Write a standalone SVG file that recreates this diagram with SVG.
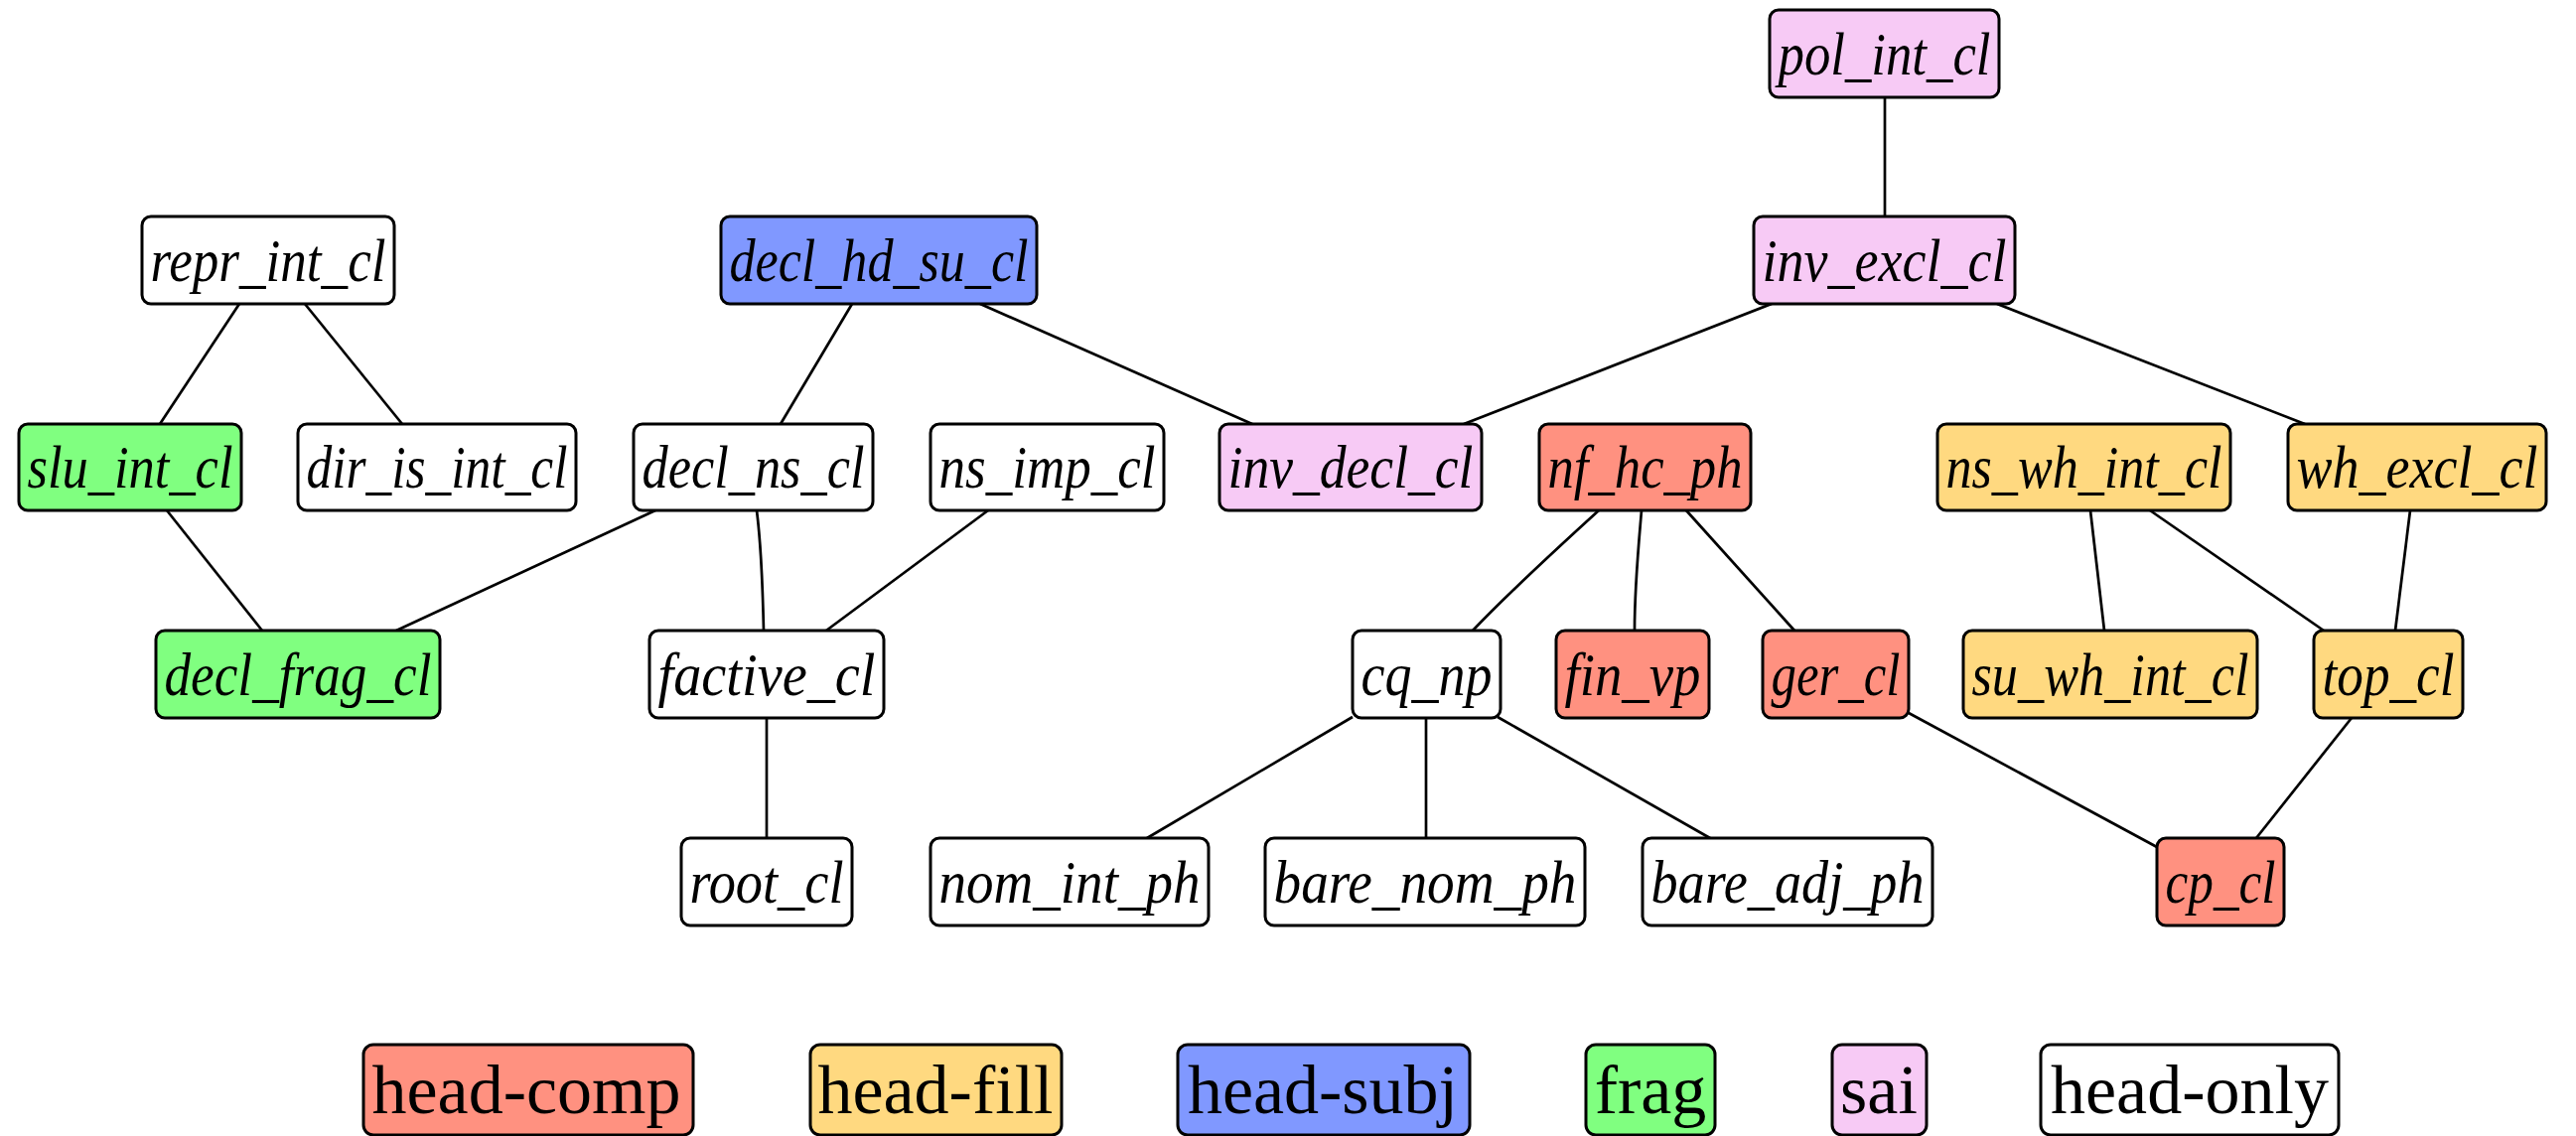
<svg xmlns="http://www.w3.org/2000/svg" width="2594" height="1144" viewBox="0 0 2594 1144">
<style>
.n rect{stroke:#000;stroke-width:3}
.n text{font-family:"Liberation Serif",serif;font-style:italic;font-size:62px;text-anchor:middle;fill:#000}
.lg rect{stroke:#000;stroke-width:3}
.lg text{font-family:"Liberation Serif",serif;font-size:70px;text-anchor:middle;fill:#000}
.hc{fill:#FF9180}
.hf{fill:#FFD980}
.hs{fill:#8098FF}
.fr{fill:#80FF80}
.sai{fill:#F7CAF5}
.ho{fill:#FFFFFF}
#edges path{fill:none;stroke:#000;stroke-width:2.7}
</style>
<rect width="2594" height="1144" fill="#fff"/>
<g id="edges">
<path d="M1898,98 L1898,218"/>
<path d="M241,306 L161,427"/>
<path d="M307,306 L405,427"/>
<path d="M858,306 L786,427"/>
<path d="M987,306 L1261,427"/>
<path d="M1784,306 L1474,427"/>
<path d="M2011,306 L2321,427"/>
<path d="M168,514 L264,635"/>
<path d="M660,514 L399,635"/>
<path d="M762,514 C766,545 768,590 769,635"/>
<path d="M995,514 L832,635"/>
<path d="M772,723 L772,844"/>
<path d="M1610,514 C1588,534 1520,596 1483,635"/>
<path d="M1653,514 C1650,550 1646,590 1646,635"/>
<path d="M1698,514 L1807,635"/>
<path d="M1362,722 L1155,844"/>
<path d="M1436,722 L1436,844"/>
<path d="M1508,722 L1722,844"/>
<path d="M1922,718 L2172,853"/>
<path d="M2368,723 L2272,844"/>
<path d="M2105,514 L2119,635"/>
<path d="M2165,514 L2340,635"/>
<path d="M2427,514 L2412,635"/>
</g>
<g id="pol_int_cl" class="n"><rect class="sai" x="1782" y="10" width="231" height="88" rx="9"/><text x="1897.5" y="75" textLength="214" lengthAdjust="spacingAndGlyphs">pol_int_cl</text></g>
<g id="repr_int_cl" class="n"><rect class="ho" x="143" y="218" width="254" height="88" rx="9"/><text x="270" y="283" textLength="237" lengthAdjust="spacingAndGlyphs">repr_int_cl</text></g>
<g id="decl_hd_su_cl" class="n"><rect class="hs" x="726" y="218" width="318" height="88" rx="9"/><text x="885" y="283" textLength="301" lengthAdjust="spacingAndGlyphs">decl_hd_su_cl</text></g>
<g id="inv_excl_cl" class="n"><rect class="sai" x="1766" y="218" width="263" height="88" rx="9"/><text x="1897.5" y="283" textLength="246" lengthAdjust="spacingAndGlyphs">inv_excl_cl</text></g>
<g id="slu_int_cl" class="n"><rect class="fr" x="19" y="427" width="224" height="87" rx="9"/><text x="131" y="491" textLength="207" lengthAdjust="spacingAndGlyphs">slu_int_cl</text></g>
<g id="dir_is_int_cl" class="n"><rect class="ho" x="300" y="427" width="280" height="87" rx="9"/><text x="440" y="491" textLength="263" lengthAdjust="spacingAndGlyphs">dir_is_int_cl</text></g>
<g id="decl_ns_cl" class="n"><rect class="ho" x="638" y="427" width="241" height="87" rx="9"/><text x="758.5" y="491" textLength="224" lengthAdjust="spacingAndGlyphs">decl_ns_cl</text></g>
<g id="ns_imp_cl" class="n"><rect class="ho" x="937" y="427" width="235" height="87" rx="9"/><text x="1054.5" y="491" textLength="218" lengthAdjust="spacingAndGlyphs">ns_imp_cl</text></g>
<g id="inv_decl_cl" class="n"><rect class="sai" x="1228" y="427" width="264" height="87" rx="9"/><text x="1360" y="491" textLength="247" lengthAdjust="spacingAndGlyphs">inv_decl_cl</text></g>
<g id="nf_hc_ph" class="n"><rect class="hc" x="1550" y="427" width="213" height="87" rx="9"/><text x="1656.5" y="491" textLength="196" lengthAdjust="spacingAndGlyphs">nf_hc_ph</text></g>
<g id="ns_wh_int_cl" class="n"><rect class="hf" x="1951" y="427" width="295" height="87" rx="9"/><text x="2098.5" y="491" textLength="278" lengthAdjust="spacingAndGlyphs">ns_wh_int_cl</text></g>
<g id="wh_excl_cl" class="n"><rect class="hf" x="2304" y="427" width="260" height="87" rx="9"/><text x="2434" y="491" textLength="243" lengthAdjust="spacingAndGlyphs">wh_excl_cl</text></g>
<g id="decl_frag_cl" class="n"><rect class="fr" x="157" y="635" width="286" height="88" rx="9"/><text x="300" y="700" textLength="269" lengthAdjust="spacingAndGlyphs">decl_frag_cl</text></g>
<g id="factive_cl" class="n"><rect class="ho" x="654" y="635" width="236" height="88" rx="9"/><text x="772" y="700" textLength="219" lengthAdjust="spacingAndGlyphs">factive_cl</text></g>
<g id="cq_np" class="n"><rect class="ho" x="1362" y="635" width="149" height="88" rx="9"/><text x="1436.5" y="700" textLength="132" lengthAdjust="spacingAndGlyphs">cq_np</text></g>
<g id="fin_vp" class="n"><rect class="hc" x="1567" y="635" width="154" height="88" rx="9"/><text x="1644" y="700" textLength="137" lengthAdjust="spacingAndGlyphs">fin_vp</text></g>
<g id="ger_cl" class="n"><rect class="hc" x="1775" y="635" width="147" height="88" rx="9"/><text x="1848.5" y="700" textLength="130" lengthAdjust="spacingAndGlyphs">ger_cl</text></g>
<g id="su_wh_int_cl" class="n"><rect class="hf" x="1977" y="635" width="296" height="88" rx="9"/><text x="2125" y="700" textLength="279" lengthAdjust="spacingAndGlyphs">su_wh_int_cl</text></g>
<g id="top_cl" class="n"><rect class="hf" x="2330" y="635" width="150" height="88" rx="9"/><text x="2405" y="700" textLength="133" lengthAdjust="spacingAndGlyphs">top_cl</text></g>
<g id="root_cl" class="n"><rect class="ho" x="686" y="844" width="172" height="88" rx="9"/><text x="772" y="909" textLength="155" lengthAdjust="spacingAndGlyphs">root_cl</text></g>
<g id="nom_int_ph" class="n"><rect class="ho" x="937" y="844" width="280" height="88" rx="9"/><text x="1077" y="909" textLength="263" lengthAdjust="spacingAndGlyphs">nom_int_ph</text></g>
<g id="bare_nom_ph" class="n"><rect class="ho" x="1274" y="844" width="322" height="88" rx="9"/><text x="1435" y="909" textLength="305" lengthAdjust="spacingAndGlyphs">bare_nom_ph</text></g>
<g id="bare_adj_ph" class="n"><rect class="ho" x="1654" y="844" width="292" height="88" rx="9"/><text x="1800" y="909" textLength="275" lengthAdjust="spacingAndGlyphs">bare_adj_ph</text></g>
<g id="cp_cl" class="n"><rect class="hc" x="2172" y="844" width="128" height="88" rx="9"/><text x="2236" y="909" textLength="111" lengthAdjust="spacingAndGlyphs">cp_cl</text></g>
<g id="legend" class="lg">
<g id="lg_head_comp"><rect class="hc" x="366" y="1052" width="332" height="91" rx="10"/><text x="530" y="1121">head-comp</text></g>
<g id="lg_head_fill"><rect class="hf" x="816" y="1052" width="253" height="91" rx="10"/><text x="942" y="1121">head-fill</text></g>
<g id="lg_head_subj"><rect class="hs" x="1186" y="1052" width="294" height="91" rx="10"/><text x="1332" y="1121">head-subj</text></g>
<g id="lg_frag"><rect class="fr" x="1597" y="1052" width="130" height="91" rx="10"/><text x="1662" y="1121">frag</text></g>
<g id="lg_sai"><rect class="sai" x="1845" y="1052" width="95" height="91" rx="10"/><text x="1892" y="1121">sai</text></g>
<g id="lg_head_only"><rect class="ho" x="2055" y="1052" width="300" height="91" rx="10"/><text x="2205" y="1121">head-only</text></g>
</g>
</svg>
